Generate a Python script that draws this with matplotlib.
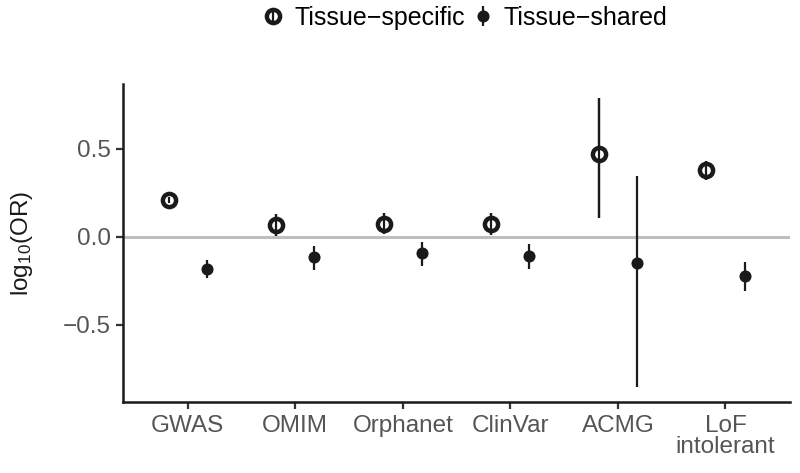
import numpy as np
import matplotlib
matplotlib.use('Agg')
import matplotlib.pyplot as plt
from matplotlib.lines import Line2D
from matplotlib.legend_handler import HandlerTuple

plt.rcParams['font.family'] = ['Liberation Sans', 'DejaVu Sans']
plt.rcParams['mathtext.fontset'] = 'custom'
plt.rcParams['mathtext.rm'] = 'Liberation Sans'
plt.rcParams['mathtext.it'] = 'Liberation Sans'

# data: log10(OR) with confidence interval
categories = ['GWAS', 'OMIM', 'Orphanet', 'ClinVar', 'ACMG', 'LoF\nintolerant']
spec_est = [0.209, 0.066, 0.076, 0.076, 0.470, 0.379]
spec_lo = [0.190, 0.006, 0.014, 0.010, 0.110, 0.322]
spec_hi = [0.228, 0.130, 0.133, 0.133, 0.792, 0.430]
shared_est = [-0.184, -0.117, -0.094, -0.108, -0.151, -0.223]
shared_lo = [-0.235, -0.189, -0.166, -0.180, -0.856, -0.307]
shared_hi = [-0.130, -0.053, -0.028, -0.038, 0.345, -0.142]

x = np.arange(1, len(categories) + 1)
dodge = 0.177
ink = '#1a1a1a'

fig = plt.figure(figsize=(8, 4.73), dpi=100)
ax = fig.add_axes([0.154, 0.150, 0.8335, 0.672])

ax.axhline(0, color='#bebebe', lw=2.2, zorder=1)

# tissue-specific: hollow points with bar through them
ax.vlines(x - dodge, spec_lo, spec_hi, color=ink, lw=1.6, zorder=2)
ax.plot(x - dodge, spec_est, 'o', ms=9.5, mfc='white', mec=ink, mew=3.2, zorder=3)
ax.vlines(x - dodge, spec_lo, spec_hi, color=ink, lw=1.6, zorder=4)

# tissue-shared: filled points
ax.vlines(x + dodge, shared_lo, shared_hi, color=ink, lw=1.6, zorder=2)
ax.plot(x + dodge, shared_est, 'o', ms=8.7, mfc=ink, mec=ink, mew=0, zorder=3)

ax.set_xlim(0.4, 6.6)
ax.set_ylim(-0.939, 0.868)
ax.set_xticks(x)
ax.set_xticklabels(categories, linespacing=0.95)
ax.set_yticks([-0.5, 0.0, 0.5])
ax.set_yticklabels(['\u22120.5', '0.0', '0.5'])
ax.tick_params(axis='both', labelsize=17.5, labelcolor='#555555', color='#333333',
               length=5, width=1.6, pad=4)

for s in ['top', 'right']:
    ax.spines[s].set_visible(False)
for s in ['left', 'bottom']:
    ax.spines[s].set_linewidth(1.8)
    ax.spines[s].set_color(ink)

ax.set_ylabel(r'log$_{10}$(OR)', fontsize=17.5, color=ink, labelpad=20)

# legend keys: point with short bar through it
h_spec = (Line2D([], [], ls='none', marker='o', ms=9.5, mfc='white', mec=ink, mew=3.2),
          Line2D([], [], ls='none', marker='|', ms=11, mec=ink, mew=1.6))
h_shared = (Line2D([], [], ls='none', marker='o', ms=8.7, mfc=ink, mec=ink, mew=0),
            Line2D([], [], ls='none', marker='|', ms=15, mec=ink, mew=1.6))
fig.legend([h_spec, h_shared], ['Tissue\u2212specific', 'Tissue\u2212shared'],
           handler_map={tuple: HandlerTuple(ndivide=1, pad=0)},
           loc='center', bbox_to_anchor=(0.581, 0.962), ncol=2, frameon=False,
           fontsize=18, handlelength=0.9, handletextpad=0.4, columnspacing=0.25,
           borderaxespad=0)

fig.savefig('out.png', dpi=100)
